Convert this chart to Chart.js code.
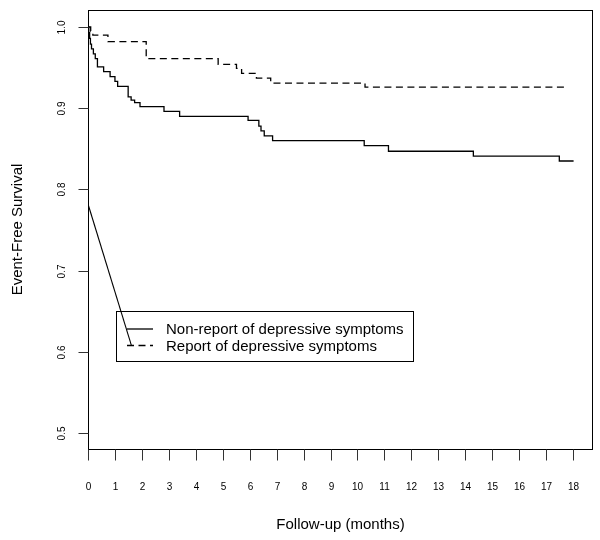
<!DOCTYPE html>
<html><head><meta charset="utf-8">
<script src="https://cdn.jsdelivr.net/npm/chart.js@4.4.1/dist/chart.umd.min.js"></script>
<style>html,body{margin:0;padding:0;background:#fff}canvas{display:block}</style>
</head><body>
<canvas id="c" width="600" height="540"></canvas>
<script>
// ---- data ----
const xTickValues = [0,1,2,3,4,5,6,7,8,9,10,11,12,13,14,15,16,17,18];
const yTickValues = [0.5,0.6,0.7,0.8,0.9,1.0];
const yTickLabels = ["0.5","0.6","0.7","0.8","0.9","1.0"];
const seriesNames = ["Non-report of depressive symptoms","Report of depressive symptoms"];
const xTitle = "Follow-up (months)";
const yTitle = "Event-Free Survival";

const nonReportMonths   = [0, 0.03, 0.06, 0.09, 0.13, 0.20, 0.27, 0.35, 0.58, 0.82, 1.00, 1.10, 1.49, 1.60, 1.73, 1.93, 2.82, 3.40, 5.94, 6.34, 6.42, 6.54, 6.85, 10.25, 11.15, 14.30, 17.49, 18.02];
const nonReportSurvival = [1.0, 0.993, 0.986, 0.979, 0.973, 0.967, 0.961, 0.951, 0.945, 0.939, 0.933, 0.927, 0.914, 0.910, 0.907, 0.902, 0.896, 0.890, 0.885, 0.878, 0.872, 0.866, 0.860, 0.854, 0.847, 0.841, 0.835, 0.835];

const reportMonths   = [0, 0.10, 0.18, 0.74, 2.16, 4.83, 5.51, 5.70, 6.25, 6.78, 10.28, 17.71];
const reportSurvival = [1.0, 0.995, 0.990, 0.982, 0.961, 0.954, 0.949, 0.943, 0.937, 0.931, 0.926, 0.926];

const leaderMonths   = [0, 1.61];
const leaderSurvival = [0.782, 0.608];

// ---- chart ----
const FONT = '"Liberation Sans", Arial, Helvetica, sans-serif';
const toXY = (xs, ys) => xs.map((x, i) => ({x: x, y: ys[i]}));

const framePlugin = {
  id: 'frame',
  afterDraw(chart) {
    const ctx = chart.ctx, a = chart.chartArea;
    const xs = chart.scales.x, ys = chart.scales.y;
    ctx.save();
    // box
    ctx.strokeStyle = '#000'; ctx.lineWidth = 1; ctx.setLineDash([]);
    ctx.strokeRect(Math.round(a.left) + 0.5, Math.round(a.top) + 0.5,
                   Math.round(a.right - a.left) - 1, Math.round(a.bottom - a.top));
    // x ticks
    ctx.strokeStyle = '#333';
    ctx.fillStyle = '#000';
    ctx.font = '10px ' + FONT;
    ctx.textAlign = 'center'; ctx.textBaseline = 'middle';
    const bottom = Math.round(a.bottom) + 0.5;
    xTickValues.forEach(v => {
      const px = Math.round(xs.getPixelForValue(v)) + 0.5;
      ctx.beginPath(); ctx.moveTo(px, bottom); ctx.lineTo(px, bottom + 11); ctx.stroke();
      ctx.fillText(String(v), px, bottom + 38);
    });
    // y ticks
    const left = Math.round(a.left) + 0.5;
    yTickValues.forEach((v, i) => {
      const py = Math.round(ys.getPixelForValue(v)) + 0.5;
      ctx.beginPath(); ctx.moveTo(left, py); ctx.lineTo(left - 10, py); ctx.stroke();
      ctx.save();
      ctx.translate(62, py);
      ctx.rotate(-Math.PI / 2);
      ctx.fillText(yTickLabels[i], 0, 0);
      ctx.restore();
    });
    // titles
    ctx.font = '15px ' + FONT;
    ctx.fillText(xTitle, (a.left + a.right) / 2, 525);
    ctx.save();
    ctx.translate(18, (a.top + a.bottom) / 2);
    ctx.rotate(-Math.PI / 2);
    ctx.fillText(yTitle, 0, 0);
    ctx.restore();
    // legend
    ctx.strokeStyle = '#000'; ctx.lineWidth = 1;
    ctx.strokeRect(116.5, 311.5, 297, 50);
    ctx.lineWidth = 1.3;
    ctx.beginPath(); ctx.moveTo(127, 329); ctx.lineTo(153, 329); ctx.stroke();
    ctx.setLineDash([7, 4.5]);
    ctx.beginPath(); ctx.moveTo(127, 345.5); ctx.lineTo(153, 345.5); ctx.stroke();
    ctx.setLineDash([]);
    ctx.textAlign = 'left';
    ctx.fillText(seriesNames[0], 166, 330);
    ctx.fillText(seriesNames[1], 166, 347);
    ctx.restore();
  }
};

new Chart(document.getElementById('c'), {
  type: 'line',
  data: {
    datasets: [
      { label: seriesNames[0], data: toXY(nonReportMonths, nonReportSurvival),
        borderColor: '#000', borderWidth: 1.3, pointRadius: 0, stepped: true, fill: false },
      { label: seriesNames[1], data: toXY(reportMonths, reportSurvival),
        borderColor: '#000', borderWidth: 1.3, borderDash: [7, 4.5], pointRadius: 0, stepped: true, fill: false },
      { label: 'leader', data: toXY(leaderMonths, leaderSurvival),
        borderColor: '#000', borderWidth: 1.1, pointRadius: 0, fill: false }
    ]
  },
  options: {
    responsive: false,
    animation: false,
    devicePixelRatio: 1,
    layout: { padding: { left: 88, right: 7, top: 10, bottom: 91 } },
    plugins: { legend: { display: false }, tooltip: { enabled: false } },
    scales: {
      x: { type: 'linear', min: 0, max: 18.74, display: false },
      y: { type: 'linear', min: 0.48034, max: 1.02094, display: false }
    }
  },
  plugins: [framePlugin]
});
</script>
</body></html>
